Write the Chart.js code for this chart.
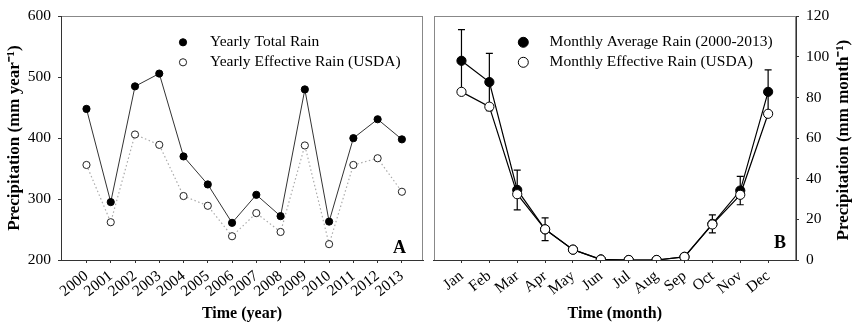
<!DOCTYPE html>
<html>
<head>
<meta charset="utf-8">
<script src="https://cdn.jsdelivr.net/npm/chart.js@4.4.1/dist/chart.umd.min.js"></script>
<style>
  html, body { margin: 0; padding: 0; background: #fff; }
  #wrap { position: relative; width: 856px; height: 325px; }
  .panel { position: absolute; top: 0; }
</style>
</head>
<body>
<div id="wrap">
  <canvas id="yearly" class="panel" width="428" height="325" style="left:0"></canvas>
  <canvas id="monthly" class="panel" width="428" height="325" style="left:428px"></canvas>
</div>
<script>
// panel A data
const years = [2000, 2001, 2002, 2003, 2004, 2005, 2006, 2007, 2008, 2009, 2010, 2011, 2012, 2013];
const yearlyTotal = [448, 295, 485, 506, 370, 324, 261, 307, 272, 480, 263, 400, 431, 398];
const yearlyEffective = [356, 262, 406, 389, 305, 289, 239, 277, 246, 388, 226, 356, 367, 312];

// panel B data
const months = ['Jan', 'Feb', 'Mar', 'Apr', 'May', 'Jun', 'Jul', 'Aug', 'Sep', 'Oct', 'Nov', 'Dec'];
const monthPos = [1, 2, 3, 4, 5, 6, 7, 8, 9, 10, 11, 12];
const monthlyAvg = [98.1, 87.6, 34.5, 15.1, 5.1, 0.3, 0, 0, 1.6, 17.8, 34.2, 82.8];
const monthlyAvgErr = [15.3, 14.1, 9.8, 5.6, 1.3, 0, 0, 0, 0, 4.4, 7, 10.8];
const monthlyEffective = [82.8, 75.5, 32.4, 15.1, 5.1, 0.2, 0, 0, 1.5, 17.5, 32.1, 72];

const serif = '"Liberation Serif", "Times New Roman", serif';
const axisColor = '#333';
const frameColor = '#888';
const tickFont = { family: serif, size: 15.5 };
const titleFont = { family: serif, size: 16, weight: 'bold' };

const toPoints = (xs, ys) => xs.map((x, i) => ({ x: x, y: ys[i] }));

// gray box round the plot, axes draw darker on top of it
const frame = {
    id: 'frame',
    beforeDraw(chart) {
        const { ctx, chartArea: a } = chart;
        ctx.save();
        ctx.strokeStyle = frameColor;
        ctx.lineWidth = 1;
        ctx.strokeRect(Math.round(a.left) + 0.5, Math.round(a.top) + 0.5,
            Math.round(a.right - a.left) - 1, Math.round(a.bottom - a.top));
        ctx.restore();
    }
};

const insideLegend = {
    id: 'insideLegend',
    afterDatasetsDraw(chart, args, opts) {
        const { ctx, chartArea } = chart;
        ctx.save();
        ctx.font = `15.5px ${serif}`;
        ctx.textBaseline = 'middle';
        ctx.textAlign = 'left';
        chart.data.datasets.forEach((ds, i) => {
            const y = chartArea.top + opts.y + i * opts.rowGap;
            const mx = chartArea.left + opts.markerX;
            ctx.beginPath();
            ctx.arc(mx, y, opts.radius, 0, Math.PI * 2);
            ctx.fillStyle = ds.pointBackgroundColor;
            ctx.fill();
            ctx.lineWidth = 1;
            ctx.strokeStyle = ds.pointBorderColor;
            ctx.stroke();
            ctx.fillStyle = '#000';
            ctx.fillText(ds.label, chartArea.left + opts.textX, y);
        });
        // panel letter
        ctx.font = `bold 18px ${serif}`;
        ctx.textAlign = 'center';
        ctx.fillText(opts.letter, chartArea.right - opts.letterDx, chartArea.bottom - opts.letterDy);
        ctx.restore();
    }
};

const errorBars = {
    id: 'errorBars',
    beforeDatasetsDraw(chart) {
        const { ctx, scales } = chart;
        ctx.save();
        ctx.strokeStyle = '#000';
        ctx.lineWidth = 1.2;
        monthPos.forEach((m, i) => {
            const err = monthlyAvgErr[i];
            if (!err) return;
            const x = scales.x.getPixelForValue(m);
            const yTop = scales.y.getPixelForValue(monthlyAvg[i] + err);
            const yBot = scales.y.getPixelForValue(monthlyAvg[i] - err);
            ctx.beginPath();
            ctx.moveTo(x, yTop); ctx.lineTo(x, yBot);
            ctx.moveTo(x - 3.5, yTop); ctx.lineTo(x + 3.5, yTop);
            ctx.moveTo(x - 3.5, yBot); ctx.lineTo(x + 3.5, yBot);
            ctx.stroke();
        });
        ctx.restore();
    }
};

// title on the right reads bottom to top, so it is drawn here
const rightTitle = {
    id: 'rightTitle',
    afterDraw(chart) {
        const { ctx, chartArea } = chart;
        ctx.save();
        ctx.translate(chart.width - 12, (chartArea.top + chartArea.bottom) / 2 + 2);
        ctx.rotate(-Math.PI / 2);
        ctx.font = `bold 17px ${serif}`;
        ctx.fillStyle = '#000';
        ctx.textAlign = 'center';
        ctx.textBaseline = 'middle';
        ctx.fillText('Precipitation (mm month\u207B\u00B9)', 0, 0);
        ctx.restore();
    }
};

const gridOpts = { drawOnChartArea: false, tickLength: 3, color: axisColor, lineWidth: 1 };

new Chart(document.getElementById('yearly'), {
    type: 'line',
    data: {
        datasets: [{
            label: 'Yearly Total Rain',
            data: toPoints(years, yearlyTotal),
            borderColor: '#333',
            borderWidth: 1,
            pointRadius: 3.6,
            pointBackgroundColor: '#000',
            pointBorderColor: '#000',
            pointBorderWidth: 1
        }, {
            label: 'Yearly Effective Rain (USDA)',
            data: toPoints(years, yearlyEffective),
            borderColor: '#aaa',
            borderWidth: 1.2,
            borderDash: [1.5, 2.5],
            pointRadius: 3.6,
            pointBackgroundColor: '#fff',
            pointBorderColor: '#222',
            pointBorderWidth: 1
        }]
    },
    options: {
        responsive: false,
        animation: false,
        layout: { padding: { top: 8, right: 1, left: 0, bottom: 0 } },
        plugins: {
            legend: { display: false },
            tooltip: { enabled: false },
            insideLegend: { markerX: 122, textX: 149, y: 26, rowGap: 20, radius: 3.6, letter: 'A', letterDx: 23.5, letterDy: 12 }
        },
        scales: {
            x: {
                type: 'linear',
                min: 1998.95,
                max: 2013.87,
                afterBuildTicks: s => { s.ticks = years.map(v => ({ value: v })); },
                afterFit: s => { s.height = 65; },
                ticks: { autoSkip: false, minRotation: 38, maxRotation: 38, padding: 4, color: '#000', font: tickFont, callback: v => String(v) },
                grid: gridOpts,
                border: { color: axisColor },
                title: { display: true, text: 'Time (year)', color: '#000', font: titleFont, padding: { top: 0, bottom: 2 } }
            },
            y: {
                min: 200,
                max: 600,
                afterFit: s => { s.width = 61; },
                ticks: { stepSize: 100, padding: 7, color: '#000', font: tickFont },
                grid: gridOpts,
                border: { color: axisColor },
                title: { display: true, text: 'Precipitation (mm year\u207B\u00B9)', color: '#000', font: { family: serif, size: 17, weight: 'bold' }, padding: { top: 4, bottom: 0 } }
            }
        }
    },
    plugins: [frame, insideLegend]
});

new Chart(document.getElementById('monthly'), {
    type: 'line',
    data: {
        datasets: [{
            label: 'Monthly Average Rain (2000-2013)',
            data: toPoints(monthPos, monthlyAvg),
            borderColor: '#000',
            borderWidth: 1.2,
            pointRadius: 4.6,
            pointBackgroundColor: '#000',
            pointBorderColor: '#000',
            pointBorderWidth: 1,
            order: 2
        }, {
            label: 'Monthly Effective Rain (USDA)',
            data: toPoints(monthPos, monthlyEffective),
            borderColor: '#000',
            borderWidth: 1.2,
            pointRadius: 4.6,
            pointBackgroundColor: '#fff',
            pointBorderColor: '#000',
            pointBorderWidth: 1,
            order: 1
        }]
    },
    options: {
        responsive: false,
        animation: false,
        layout: { padding: { top: 8, right: 0, left: 0, bottom: 0 } },
        plugins: {
            legend: { display: false },
            tooltip: { enabled: false },
            insideLegend: { markerX: 89.7, textX: 116, y: 26, rowGap: 20, radius: 5, letter: 'B', letterDx: 16, letterDy: 17 }
        },
        scales: {
            x: {
                type: 'linear',
                min: 0,
                max: 13,
                afterBuildTicks: s => { s.ticks = monthPos.map(v => ({ value: v })); },
                afterFit: s => { s.height = 65; },
                ticks: { autoSkip: false, minRotation: 38, maxRotation: 38, padding: 4, color: '#000', font: tickFont, callback: v => months[v - 1] },
                grid: gridOpts,
                border: { color: axisColor },
                title: { display: true, text: 'Time (month)', color: '#000', font: titleFont, padding: { top: 0, bottom: 2 } }
            },
            y: {
                position: 'right',
                min: 0,
                max: 120,
                afterFit: s => { s.width = 60; },
                ticks: { stepSize: 20, padding: 7, color: '#000', font: tickFont },
                grid: gridOpts,
                border: { color: axisColor }
            }
        }
    },
    plugins: [frame, errorBars, insideLegend, rightTitle]
});
</script>
</body>
</html>
